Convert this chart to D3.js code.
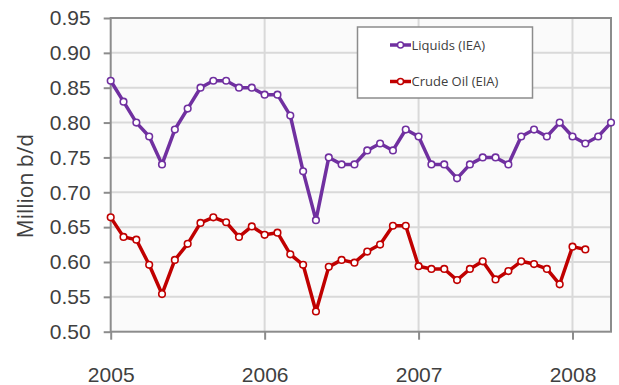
<!DOCTYPE html>
<html>
<head>
<meta charset="utf-8">
<script src="https://cdn.jsdelivr.net/npm/d3@7"></script>
<style>
  html, body { margin: 0; padding: 0; background: #fff; }
  svg { display: block; font-family: "Open Sans", "DejaVu Sans", sans-serif; }
</style>
</head>
<body>
<svg id="chart" width="619" height="385"></svg>
<script>
// Monthly series starting January 2005
const startYear = 2005;
const liquidsIEA = [
  0.86, 0.83, 0.80, 0.78, 0.74, 0.79, 0.82, 0.85, 0.86, 0.86, 0.85, 0.85,
  0.84, 0.84, 0.81, 0.73, 0.66, 0.75, 0.74, 0.74, 0.76, 0.77, 0.76, 0.79,
  0.78, 0.74, 0.74, 0.72, 0.74, 0.75, 0.75, 0.74, 0.78, 0.79, 0.78, 0.80,
  0.78, 0.77, 0.78, 0.80
];
const crudeEIA = [
  0.664, 0.636, 0.632, 0.596, 0.554, 0.603, 0.626, 0.656, 0.664, 0.657, 0.636, 0.651,
  0.639, 0.642, 0.611, 0.596, 0.529, 0.593, 0.603, 0.599, 0.615, 0.625, 0.652, 0.652,
  0.594, 0.590, 0.590, 0.574, 0.590, 0.601, 0.575, 0.587, 0.601, 0.597, 0.590, 0.568,
  0.622, 0.618
];
const yTicks = [0.50, 0.55, 0.60, 0.65, 0.70, 0.75, 0.80, 0.85, 0.90, 0.95];
const xTicks = [2005, 2006, 2007, 2008];
const seriesNames = ["Liquids (IEA)", "Crude Oil (EIA)"];
const seriesColors = ["#7030a0", "#c00000"];

const svg = d3.select("#chart");
const plot = { left: 110.7, right: 611, top: 18, bottom: 331.7 };

const x = d3.scaleLinear().domain([2005, 2008.25]).range([plot.left, plot.right]);
const y = d3.scaleLinear().domain([0.50, 0.95]).range([plot.bottom, plot.top]);

const toPoints = vals => vals.map((v, i) => ({ t: startYear + i / 12, v }));
const series = [toPoints(liquidsIEA), toPoints(crudeEIA)];

// plot background
svg.append("rect")
  .attr("x", plot.left).attr("y", plot.top)
  .attr("width", plot.right - plot.left).attr("height", plot.bottom - plot.top)
  .attr("fill", "#fafafa");

// gridlines
svg.append("g").selectAll("line").data(yTicks.slice(1, -1)).join("line")
  .attr("x1", plot.left).attr("x2", plot.right)
  .attr("y1", d => y(d)).attr("y2", d => y(d))
  .attr("stroke", "#d9d9d9").attr("stroke-width", 2);
svg.append("g").selectAll("line").data(xTicks.slice(1)).join("line")
  .attr("x1", d => x(d)).attr("x2", d => x(d))
  .attr("y1", plot.top).attr("y2", plot.bottom)
  .attr("stroke", "#d9d9d9").attr("stroke-width", 2);

// axes
const yAxis = d3.axisLeft(y).tickValues(yTicks).tickFormat(d3.format(".2f"))
  .tickSize(7).tickPadding(13);
const gy = svg.append("g").attr("transform", `translate(${plot.left},0)`).call(yAxis);
gy.select(".domain").remove();
gy.selectAll(".tick line").attr("stroke", "#8c8c8c").attr("stroke-width", 2);
gy.selectAll(".tick text").attr("fill", "#404040").style("font-size", "21px");

const xAxis = d3.axisBottom(x).tickValues(xTicks).tickFormat(d3.format("d"))
  .tickSize(8).tickPadding(27);
const gx = svg.append("g").attr("transform", `translate(0,${plot.bottom})`).call(xAxis);
gx.select(".domain").remove();
gx.selectAll(".tick line").attr("stroke", "#8c8c8c").attr("stroke-width", 2);
gx.selectAll(".tick text").attr("fill", "#404040").style("font-size", "21px");

// plot border
svg.append("rect")
  .attr("x", plot.left).attr("y", plot.top)
  .attr("width", plot.right - plot.left).attr("height", plot.bottom - plot.top)
  .attr("fill", "none").attr("stroke", "#8c8c8c").attr("stroke-width", 2);

// y-axis title
svg.append("text")
  .attr("transform", "translate(33,186) rotate(-90)")
  .attr("text-anchor", "middle")
  .attr("fill", "#404040")
  .style("font-size", "21px")
  .text("Million b/d");

// series lines and markers
const line = d3.line().x(d => x(d.t)).y(d => y(d.v));
series.forEach((pts, k) => {
  const g = svg.append("g");
  g.append("path").datum(pts)
    .attr("d", line)
    .attr("fill", "none")
    .attr("stroke", seriesColors[k])
    .attr("stroke-width", 3.5)
    .attr("stroke-linejoin", "round");
  g.selectAll("circle").data(pts).join("circle")
    .attr("cx", d => x(d.t)).attr("cy", d => y(d.v))
    .attr("r", 3.3)
    .attr("fill", "#fff")
    .attr("stroke", seriesColors[k])
    .attr("stroke-width", 1.6);
});

// legend
const legend = svg.append("g");
legend.append("rect")
  .attr("x", 357.5).attr("y", 27).attr("width", 175).attr("height", 71)
  .attr("fill", "#fff").attr("stroke", "#8c8c8c").attr("stroke-width", 1.5);
seriesNames.forEach((name, k) => {
  const ly = 45 + k * 36.5;
  legend.append("line")
    .attr("x1", 390).attr("x2", 411).attr("y1", ly).attr("y2", ly)
    .attr("stroke", seriesColors[k]).attr("stroke-width", 3.5);
  legend.append("circle")
    .attr("cx", 400.5).attr("cy", ly).attr("r", 3)
    .attr("fill", "#fff").attr("stroke", seriesColors[k]).attr("stroke-width", 1.5);
  legend.append("text")
    .attr("x", 411.5).attr("y", ly + 4.5)
    .attr("fill", "#404040")
    .style("font-size", "13px")
    .text(name);
});
</script>
</body>
</html>
